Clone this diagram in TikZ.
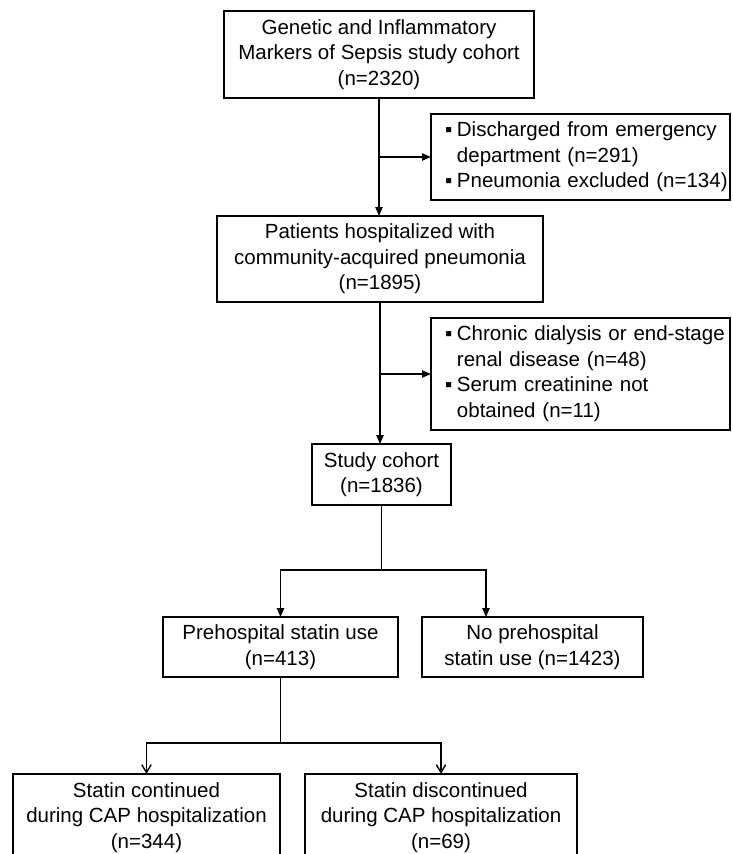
\documentclass[tikz,border=0pt]{standalone}
\usepackage{fontspec}
\setmainfont{Liberation Sans}
\usetikzlibrary{arrows.meta}
\begin{document}
\begin{tikzpicture}[x=0.03cm, y=-0.03cm,
    every node/.style={font=\fontsize{17.5}{21.8}\selectfont},
    box/.style={draw, line width=1.2pt, align=center, inner sep=0pt, outer sep=0pt},
    exclbox/.style={draw, line width=1.2pt, anchor=west, align=left, inner xsep=0.42cm, inner ysep=0pt, outer sep=0pt, text width=8.13cm},
    flow/.style={line width=1.2pt, -{Triangle[length=2.7mm,width=2.2mm]}},
    split/.style={line width=1.2pt, -{Straight Barb[length=2.4mm,width=2.8mm]}}]
  \useasboundingbox (0,0) rectangle (733,854);
  \clip (0,0) rectangle (733,854);
  \node[box, minimum width=9.3cm, minimum height=2.61cm] (gems) at (379,54.5) {Genetic and Inflammatory\\Markers of Sepsis study cohort\\(n=2320)};
  \node[exclbox, minimum height=2.58cm] (excl1) at (431,157) {\begin{tabular}{@{}l@{\hspace{4pt}}l@{}}▪ & Discharged from emergency\\ & department (n=291)\\▪ & Pneumonia excluded (n=134)\end{tabular}};
  \node[box, minimum width=9.78cm, minimum height=2.58cm] (hosp) at (380,259) {Patients hospitalized with\\community-acquired pneumonia\\(n=1895)};
  \node[exclbox, minimum height=3.36cm] (excl2) at (431,374) {\begin{tabular}{@{}l@{\hspace{4pt}}l@{}}▪ & Chronic dialysis or end-stage\\ & renal disease (n=48)\\▪ & Serum creatinine not\\ & obtained (n=11)\end{tabular}};
  \node[box, minimum width=4.17cm, minimum height=1.83cm] (cohort) at (381.5,474.5) {Study cohort\\(n=1836)};
  \node[box, minimum width=7.05cm, minimum height=1.8cm] (pre) at (280.5,647) {Prehospital statin use\\(n=413)};
  \node[box, minimum width=6.63cm, minimum height=1.8cm] (nopre) at (532.5,647) {No prehospital\\statin use (n=1423)};
  \node[box, minimum width=8.01cm, minimum height=2.61cm] (cont) at (146.5,817.5) {Statin continued\\during CAP hospitalization\\(n=344)};
  \node[box, minimum width=8.16cm, minimum height=2.61cm] (discont) at (441,817.5) {Statin discontinued\\during CAP hospitalization\\(n=69)};
  \coordinate (fork1) at (381.5,570);
  \coordinate (nopretop) at (486,617);
  \coordinate (fork2) at (280.5,743);
  \draw[flow] (gems.south) -- (gems.south |- hosp.north);
  \draw[flow] (gems.south |- excl1.west) -- (excl1.west);
  \draw[flow] (hosp.south) -- (hosp.south |- cohort.north);
  \draw[flow] (hosp.south |- excl2.west) -- (excl2.west);
  \draw[line width=1.2pt] (cohort.south) -- (fork1);
  \draw[flow] (fork1) -| (pre.north);
  \draw[flow] (fork1) -| (nopretop);
  \draw[line width=1.2pt] (pre.south) -- (fork2);
  \draw[split] (fork2) -| (cont.north);
  \draw[split] (fork2) -| (discont.north);
\end{tikzpicture}
\end{document}
